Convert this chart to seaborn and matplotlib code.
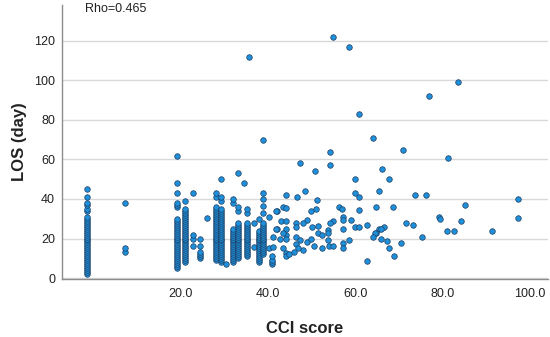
import pandas as pd
import seaborn as sns
import matplotlib.pyplot as plt

# CCI positions of the vertical stacks and LOS values in each
stack_cci = [-1.3, 7.4, 19.4, 21.1, 22.9, 24.5, 26.2, 28.2, 29.4, 30.5,
             32.0, 33.2, 34.7, 35.4, 36.8, 38.1, 39.0, 40.3, 41.0, 42.1]
stack_los = [
    [2, 3, 4, 5, 6, 7, 8, 9, 10, 11, 12, 13, 14, 15, 16, 17, 18, 19, 20, 21, 22,
     23, 24, 25, 26, 27, 28, 29, 30, 31, 34, 35, 37, 38, 41, 45],
    [13, 15, 38],
    [5, 6, 7, 8, 9, 10, 11, 12, 13, 14, 15, 16, 17, 18, 19, 20, 21, 22, 23, 24, 25,
     26, 27, 28, 29, 30, 36, 37, 38, 43, 48, 62],
    [8, 9, 10, 11, 12, 13, 14, 15, 16, 17, 18, 19, 20, 21, 22, 23, 24, 25, 26, 27,
     28, 29, 30, 31, 32, 33, 34, 35, 39],
    [16, 20, 22, 43],
    [10, 11, 12, 13, 16, 20],
    [30.5],
    [9, 10, 11, 12, 13, 14, 15, 16, 17, 18, 19, 20, 21, 22, 23, 24, 25, 26, 27, 28,
     29, 30, 31, 32, 33, 34, 35, 36, 41, 43],
    [8, 9, 10, 11, 12, 13, 14, 15, 16, 17, 18, 19, 20, 21, 22, 23, 24, 25, 26, 27,
     28, 29, 30, 31, 32, 33, 34, 35, 39, 41, 50],
    [7],
    [8, 9, 10, 11, 12, 13, 14, 15, 16, 17, 18, 19, 20, 21, 22, 23, 24, 25, 38, 40],
    [10, 11, 12, 13, 14, 15, 16, 17, 18, 19, 20, 21, 22, 23, 24, 25, 26, 27, 28,
     34, 36, 53],
    [48],
    [11, 12, 13, 14, 15, 16, 17, 18, 19, 20, 21, 22, 23, 24, 25, 26, 27, 28, 33, 35],
    [15.5, 28],
    [8, 9, 10, 11, 12, 13, 14, 15, 16, 17, 18, 19, 20, 21, 22, 23, 24, 30],
    [12, 13, 14, 15, 16, 17, 18, 19, 20, 21, 22, 23, 24, 25, 26, 27, 28, 33, 36.5,
     40, 43],
    [15, 31],
    [7, 8, 9, 11],
    [25, 34],
]

# scattered points to the right of the stacks
scatter_cci = [55.0, 58.7, 35.8, 83.5, 76.8, 60.8, 64.2, 39.0, 70.9, 54.3,
               81.3, 47.5, 54.3, 66.1, 50.9, 60.0, 67.8, 48.6, 65.5, 60.0,
               44.1, 46.7, 60.9, 73.7, 76.2, 51.2, 97.3, 85.1, 64.7, 68.6,
               56.4, 57.1, 43.5, 44.2, 41.9, 49.9, 51.0, 60.8, 79.2, 79.4,
               97.3, 57.2, 57.2, 49.1, 84.2, 55.0, 54.3, 59.0, 43.0, 44.2,
               46.5, 48.0, 71.6, 73.2, 62.7, 60.0, 60.8, 51.6, 50.1, 46.5,
               44.2, 41.9, 57.2, 65.5, 66.5, 65.9, 64.8, 64.6, 64.0, 81.0,
               82.7, 91.2, 53.9, 53.9, 53.9, 44.2, 44.2, 43.5, 75.4, 65.9,
               67.2, 58.6, 70.4, 57.2, 57.2, 54.1, 55.0, 67.8, 69.0, 62.7,
               44.2, 43.5, 44.2, 41.3, 41.3, 46.5, 47.5, 46.5, 48.0, 46.0,
               47.0, 45.0, 49.0, 50.0, 50.5, 51.5, 52.5, 52.5, 42.8]
scatter_los = [122, 117, 112, 99, 92, 83, 71, 70, 65, 64,
               61, 58, 57, 55, 54, 50, 50, 44, 44, 43,
               42, 41, 41, 42, 42, 39.5, 40, 37, 36, 36,
               36, 35, 35.8, 35.3, 34, 34, 35, 34.4, 31, 30,
               30.5, 31, 29.4, 29.5, 29, 29, 28, 29.4, 29, 29,
               28, 28, 28, 27, 27, 26, 26, 26.3, 25.7, 25.7,
               25, 25, 24.7, 25, 26, 25, 23, 22.6, 20.6, 24,
               24, 24, 24.3, 22.6, 19, 22, 20, 23, 20.6, 19.7,
               18.7, 19, 17.6, 17.6, 15, 16, 16, 15, 11, 8.5,
               12.5, 15, 11, 20.6, 15.5, 21, 19, 17, 14, 13,
               15, 12, 18, 20, 16, 23, 22, 15, 20]

rows = []
for x, ys in zip(stack_cci, stack_los):
    for y in ys:
        rows.append((x, y))
rows += list(zip(scatter_cci, scatter_los))
df = pd.DataFrame(rows, columns=["CCI score", "LOS (day)"])

sns.set_style("white")
plt.rcParams['font.family'] = ['Liberation Sans', 'DejaVu Sans']

fig = plt.figure(figsize=(5.5, 3.37), dpi=100)
ax = fig.add_axes([62 / 550, 1 - 279 / 337, 486 / 550, 274 / 337])

sns.scatterplot(data=df, x="CCI score", y="LOS (day)", ax=ax, s=16,
                color="#1e8fd8", edgecolor="#1c3d63", linewidth=0.5, zorder=3)

ax.set_xlim(-7.0, 104.1)
ax.set_ylim(-0.5, 138.2)
ax.set_xticks([20, 40, 60, 80, 100])
ax.set_xticklabels(["20.0", "40.0", "60.0", "80.0", "100.0"])
ax.set_yticks([0, 20, 40, 60, 80, 100, 120])
ax.tick_params(length=0, labelsize=9, colors="#222222")
ax.tick_params(axis='x', pad=6.5)
ax.tick_params(axis='y', pad=5)

ax.yaxis.grid(True, color="#d9d9d9", linewidth=1, zorder=0)
ax.xaxis.grid(False)
for side in ["top", "right"]:
    ax.spines[side].set_visible(False)
for side in ["left", "bottom"]:
    ax.spines[side].set_color("#8c8c8c")
    ax.spines[side].set_linewidth(1)

ax.set_xlabel("CCI score", fontsize=12, fontweight="bold", labelpad=15, color="#222222")
ax.set_ylabel("LOS (day)", fontsize=12, fontweight="bold", labelpad=5, color="#222222")

fig.text(85 / 550, 1 - 9 / 337, "Rho=0.465", fontsize=9, va="center", color="#222222")

fig.savefig("out.png", dpi=100)
